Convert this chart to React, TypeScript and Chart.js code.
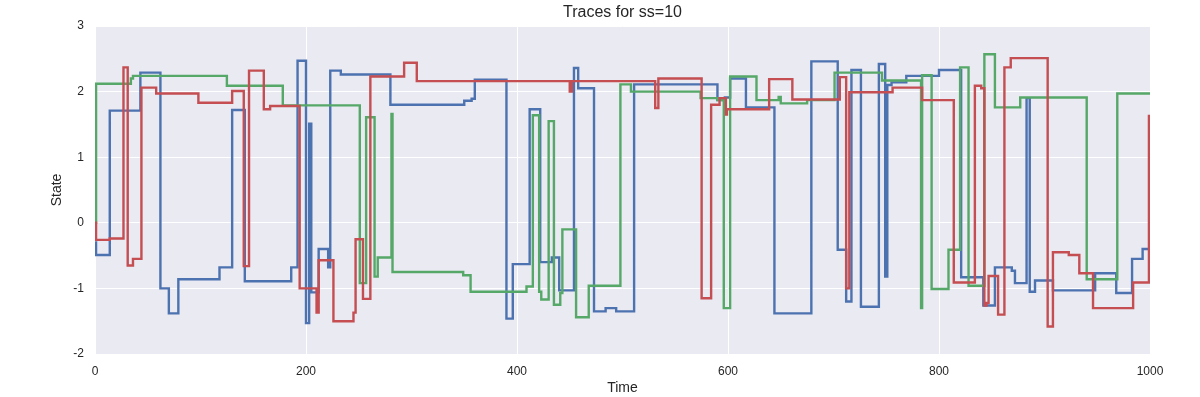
import React, { useEffect, useRef } from "react";
import { Chart, registerables } from "chart.js";

Chart.register(...registerables);

const chartTitle = "Traces for ss=10";
const xAxisLabel = "Time";
const yAxisLabel = "State";
const xTickValues = [0, 200, 400, 600, 800, 1000];
const yTickValues = [-2, -1, 0, 1, 2, 3];

// Each series: a value holds from its time to the next time.
const blueTimes = [0, 1, 14, 43, 62, 70, 79, 118, 130, 142, 186, 192, 200, 203, 205, 212, 221, 223, 233, 280, 350, 357, 360, 390, 396, 412, 422, 433, 440, 454, 458, 473, 484, 494, 511, 590, 597, 602, 617, 644, 679, 704, 712, 717, 726, 743, 749, 751, 755, 769, 800, 821, 842, 853, 869, 872, 883, 886, 891, 908, 948, 968, 983, 993, 1000];
const blueValues = [-0.3, -0.49, 1.71, 2.29, -1.0, -1.38, -0.86, -0.68, 1.72, -0.89, -0.68, 2.47, -1.53, 1.51, -1.06, -0.4, -0.68, 2.32, 2.26, 1.8, 1.86, 1.89, 2.18, -1.46, -0.63, 1.73, -0.6, -0.53, -1.03, 2.36, 2.05, -1.35, -1.3, -1.35, 2.11, 1.87, 1.91, 2.2, 1.76, -1.38, 2.46, -0.41, -1.2, 2.33, -1.28, 2.42, -0.82, 2.1, 2.14, 2.24, 2.33, -0.83, -1.26, -0.68, -0.73, -0.92, 1.9, -1.05, -0.88, -1.03, -0.77, -1.07, -0.55, -0.4, -0.4];

const greenTimes = [0, 1, 34, 36, 125, 178, 251, 257, 265, 268, 281, 282, 349, 356, 409, 415, 421, 423, 430, 435, 441, 443, 456, 468, 498, 508, 574, 590, 596, 602, 627, 648, 650, 675, 701, 746, 783, 784, 793, 809, 820, 828, 843, 853, 877, 940, 969, 1000];
const greenValues = [0.0, 2.12, 2.2, 2.24, 2.09, 1.79, -0.92, 1.61, -0.82, -0.53, 1.66, -0.75, -0.8, -1.05, -0.97, 1.64, -1.05, -1.17, 1.55, -1.25, -1.07, -0.1, -1.44, -0.96, 2.11, 2.0, 1.9, 1.87, -1.3, 2.23, 1.87, 1.92, 1.82, 1.87, 2.29, 2.17, -1.3, 2.25, -1.01, -0.41, 2.37, -0.96, 2.57, 1.76, 1.91, -0.86, 1.97, 1.97];

const redTimes = [0, 1, 14, 27, 31, 36, 44, 58, 98, 130, 141, 146, 160, 166, 194, 210, 212, 226, 245, 247, 254, 261, 293, 305, 450, 452, 531, 534, 575, 584, 592, 598, 599, 639, 661, 706, 712, 715, 756, 784, 814, 834, 840, 843, 845, 847, 856, 862, 868, 903, 908, 923, 933, 946, 984, 999, 1000];
const redValues = [0.0, -0.26, -0.24, 2.37, -0.65, -0.55, 2.06, 1.97, 1.83, 2.01, -0.66, 2.32, 1.73, 1.78, -1.0, -1.37, -0.57, -1.5, -1.37, -0.25, -1.16, 2.23, 2.44, 2.16, 2.0, 2.16, 1.75, 2.2, -1.15, 1.8, 1.9, 1.65, 1.73, 2.19, 1.88, 2.22, -1.0, 1.99, 2.06, 1.87, -0.91, 2.09, 2.05, -1.26, -1.22, -0.81, -1.4, 2.37, 2.51, -1.58, -0.45, -0.49, -0.77, -1.3, -0.91, 1.63, 1.63];

const FONT = "'Liberation Sans', Arial, Helvetica, sans-serif";
const TEXT = "#262626";

function toPoints(times: number[], values: number[]) {
  return times.map((t, i) => ({ x: t, y: values[i] }));
}

const bgPlugin = {
  id: "plotBg",
  beforeDraw(chart: any) {
    const { ctx, chartArea } = chart;
    ctx.save();
    ctx.fillStyle = "#EAEAF2";
    ctx.fillRect(chartArea.left, chartArea.top, chartArea.right - chartArea.left, chartArea.bottom - chartArea.top);
    ctx.restore();
  },
};

export default function App() {
  const ref = useRef<HTMLCanvasElement | null>(null);
  useEffect(() => {
    if (!ref.current) return;
    const chart = new Chart(ref.current, {
      type: "line",
      data: {
        datasets: [
          { label: "blue", data: toPoints(blueTimes, blueValues), borderColor: "#4C72B0", order: 2 },
          { label: "green", data: toPoints(greenTimes, greenValues), borderColor: "#55A868", order: 1 },
          { label: "red", data: toPoints(redTimes, redValues), borderColor: "#C44E52", order: 0 },
        ].map((d) => ({ ...d, stepped: "before" as const, borderWidth: 2.4, pointRadius: 0, tension: 0, fill: false })),
      },
      options: {
        animation: false,
        responsive: false,
        layout: { padding: { left: 0, right: 50, top: 0, bottom: 0 } },
        plugins: {
          legend: { display: false },
          tooltip: { enabled: false },
          title: {
            display: true,
            text: chartTitle,
            fullSize: false,
            color: TEXT,
            font: { family: FONT, size: 16, weight: "normal", lineHeight: 1.2 },
            padding: { top: 2.5, bottom: 4.3 },
          },
        },
        scales: {
          x: {
            type: "linear",
            min: 0,
            max: 1000,
            afterBuildTicks: (s: any) => { s.ticks = xTickValues.map((v) => ({ value: v })); },
            afterFit: (s: any) => { s.height = 43; },
            ticks: { color: TEXT, font: { family: FONT, size: 12 }, padding: 10, maxRotation: 0, callback: (v: any) => String(v) },
            grid: { color: "#FFFFFF", lineWidth: 1, drawTicks: false },
            border: { display: false },
            title: { display: true, text: xAxisLabel, color: TEXT, font: { family: FONT, size: 14 }, padding: { top: 0, bottom: 0 } },
          },
          y: {
            type: "linear",
            min: -2,
            max: 3,
            afterBuildTicks: (s: any) => { s.ticks = yTickValues.map((v) => ({ value: v })); },
            afterFit: (s: any) => { s.width = 95; },
            ticks: { color: TEXT, font: { family: FONT, size: 12 }, padding: 11, callback: (v: any) => String(v) },
            grid: { color: "#FFFFFF", lineWidth: 1, drawTicks: false },
            border: { display: false },
            title: { display: true, text: yAxisLabel, color: TEXT, font: { family: FONT, size: 14 }, padding: { top: 48.6, bottom: 0 } },
          },
        },
      },
      plugins: [bgPlugin],
    });
    return () => chart.destroy();
  }, []);
  return (
    <div style={{ position: "absolute", left: 0, top: 0, width: 1200, height: 397, background: "#fff" }}>
      <canvas ref={ref} width={1200} height={397} style={{ display: "block" }} />
    </div>
  );
}
